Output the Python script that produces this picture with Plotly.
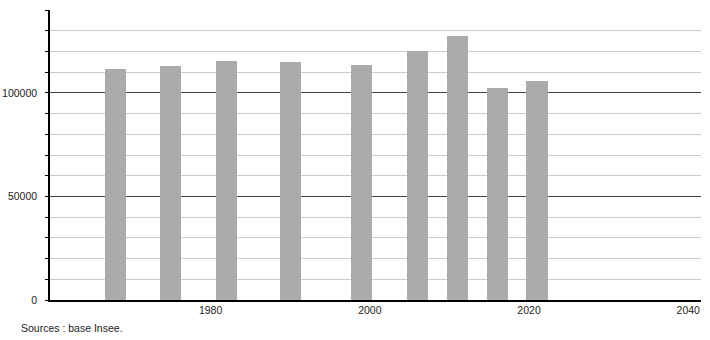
import plotly.graph_objects as go

years = [1968, 1975, 1982, 1990, 1999, 2006, 2011, 2016, 2021]
population = [111400, 113000, 115300, 115000, 113400, 120100, 127400, 102400, 105600]
x_tick_vals = [1980, 2000, 2020, 2040]
x_tick_text = ["1980", "2000", "2020", "2040"]
y_tick_vals = [0, 50000, 100000]
y_tick_text = ["0", "50000", "100000"]
source_text = "Sources : base Insee."

fig = go.Figure()
fig.add_trace(go.Bar(
    x=years, y=population, width=2.64,
    marker=dict(color="#ababab", line=dict(width=0)),
    hoverinfo="x+y",
))

font = dict(family="Liberation Sans, Arial, sans-serif", size=10.5, color="#222222")

fig.update_layout(
    width=710, height=340,
    margin=dict(l=50, r=9, t=10, b=40, autoexpand=False),
    paper_bgcolor="white", plot_bgcolor="white",
    showlegend=False,
    font=font,
    bargap=0,
    xaxis=dict(
        range=[1959.83, 2041.6],
        tickvals=x_tick_vals, ticktext=x_tick_text,
        showgrid=False, zeroline=False,
        showline=True, linecolor="black", linewidth=1.5,
        ticks="", ticklabelstandoff=0,
        tickfont=font, automargin=False,
    ),
    yaxis=dict(
        range=[0, 140000],
        tickvals=y_tick_vals, ticktext=y_tick_text,
        showgrid=True, gridcolor="#444444", gridwidth=1,
        zeroline=False,
        showline=True, linecolor="black", linewidth=1.5,
        ticks="outside", ticklen=3, tickcolor="black",
        ticklabelstandoff=6,
        tickfont=font, automargin=False,
        minor=dict(dtick=10000, tick0=0, showgrid=True, gridcolor="#cccccc",
                   gridwidth=1, ticks="outside", ticklen=3, tickcolor="black"),
    ),
    annotations=[dict(
        text=source_text, xref="paper", yref="paper",
        x=0, xshift=-31, xanchor="left",
        y=-28 / 290, yanchor="middle",
        showarrow=False, font=font,
    )],
)

fig.write_html("out.html")
